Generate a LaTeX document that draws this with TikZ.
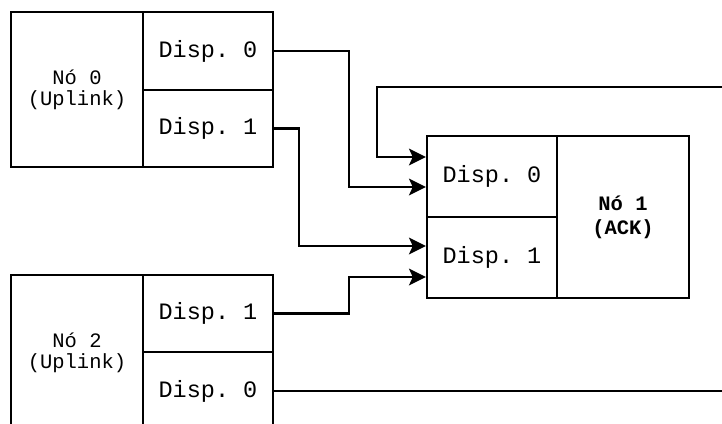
\documentclass[tikz,border=0pt]{standalone}
\usepackage{fontspec}
\setmonofont{Liberation Mono}
\usetikzlibrary{arrows.meta}
\begin{document}
\begin{tikzpicture}[x=1pt,y=-1pt,
  cell/.style={draw,line width=2.4pt,rectangle,inner sep=0pt,align=center,
    font=\ttfamily\fontsize{23.5}{23.5}\selectfont},
  lbl/.style={cell,font=\ttfamily\fontsize{20.5}{21}\selectfont},
  blbl/.style={cell,font=\ttfamily\bfseries\fontsize{20.5}{24}\selectfont},
  conn/.style={line width=2.2pt},
  arr/.style={conn,-{Stealth[length=17pt,width=17pt,inset=4pt,line width=0pt]}}]
\clip (0,0) rectangle (722,423);
\fill[white] (0,0) rectangle (722,423);
% Node 0
\node[lbl,minimum width=132pt,minimum height=155pt] (n0) at (77,89.5) {Nó 0\\(Uplink)};
\node[cell,minimum width=130pt,minimum height=78pt] (n0d0) at (208,51) {Disp. 0};
\node[cell,minimum width=130pt,minimum height=77pt] (n0d1) at (208,128.5) {Disp. 1};
% Node 2
\node[lbl,minimum width=132pt,minimum height=155pt] (n2) at (77,352.5) {Nó 2\\(Uplink)};
\node[cell,minimum width=130pt,minimum height=77pt] (n2d1) at (208,313.5) {Disp. 1};
\node[cell,minimum width=130pt,minimum height=78pt] (n2d0) at (208,391) {Disp. 0};
% Node 1
\node[cell,minimum width=130pt,minimum height=81pt] (n1d0) at (492,176.5) {Disp. 0};
\node[cell,minimum width=130pt,minimum height=81pt] (n1d1) at (492,257.5) {Disp. 1};
\node[blbl,minimum width=132pt,minimum height=162pt] (n1) at (623,217) {Nó 1\\(ACK)};
% free ends
\coordinate (e1) at (730,87);
\coordinate (t1) at (377,87);
\coordinate (e2) at (730,391);
% connectors
\draw[arr] (e1) -- (t1) |- ([yshift=19.5pt]n1d0.west);
\draw[arr] (n0d0.east) -- ++(75,0) |- ([yshift=-10.5pt]n1d0.west);
\draw[arr] (n0d1.east) -- ++(25,0) |- ([yshift=11.5pt]n1d1.west);
\draw[arr] (n2d1.east) -- ++(75,0) |- ([yshift=-19.5pt]n1d1.west);
\draw[conn] (n2d0.east) -- (n2d0.east -| e2);
\end{tikzpicture}
\end{document}
